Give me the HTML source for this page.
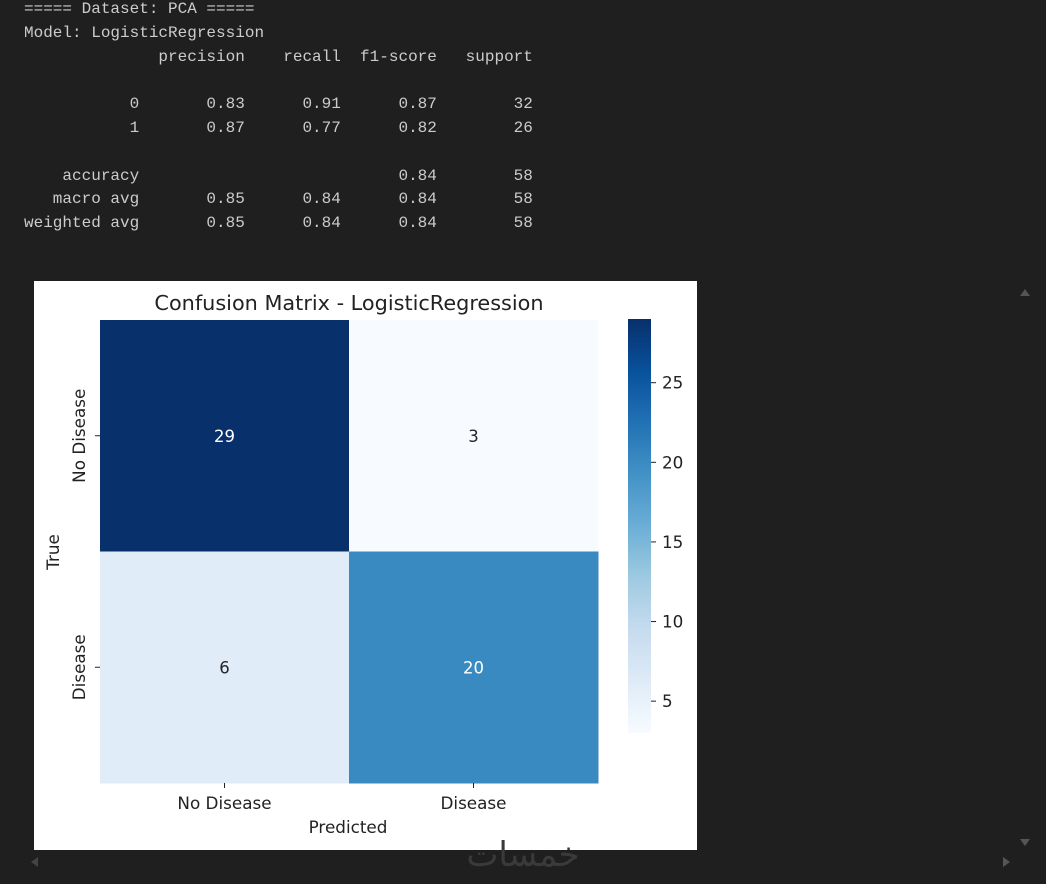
<!DOCTYPE html>
<html><head><meta charset="utf-8"><style>
html,body{margin:0;padding:0;background:#1f1f1f;width:1046px;height:884px;overflow:hidden}
pre{position:absolute;left:24px;top:-2px;margin:0;font-family:"Liberation Mono",monospace;font-size:16px;line-height:23.8px;color:#cccccc}
svg{position:absolute;left:0;top:0}
</style></head><body>
<pre>===== Dataset: PCA =====
Model: LogisticRegression
              precision    recall  f1-score   support

           0       0.83      0.91      0.87        32
           1       0.87      0.77      0.82        26

    accuracy                           0.84        58
   macro avg       0.85      0.84      0.84        58
weighted avg       0.85      0.84      0.84        58</pre>
<svg id="chart" width="1046" height="884" xmlns="http://www.w3.org/2000/svg" font-family="'DejaVu Sans',sans-serif">
<defs><linearGradient id="cbg" x1="0" y1="1" x2="0" y2="0">
<stop offset="0" stop-color="#f7fbff"/><stop offset="0.125" stop-color="#deebf7"/><stop offset="0.25" stop-color="#c6dbef"/><stop offset="0.375" stop-color="#9ecae1"/><stop offset="0.5" stop-color="#6baed6"/><stop offset="0.625" stop-color="#4292c6"/><stop offset="0.75" stop-color="#2171b5"/><stop offset="0.875" stop-color="#08519c"/><stop offset="1" stop-color="#08306b"/></linearGradient></defs>
<rect x="34" y="281" width="663" height="569" fill="#ffffff"/>
<text x="349" y="310" font-size="20.8" text-anchor="middle" fill="#222">Confusion Matrix - LogisticRegression</text>
<g id="cells"></g>
<rect x="628" y="319" width="23" height="414" fill="url(#cbg)"/>
<g id="cbticks"></g>
<text x="348" y="833" font-size="16.8" text-anchor="middle" fill="#222">Predicted</text>
<text transform="translate(59,552) rotate(-90)" font-size="16.8" text-anchor="middle" fill="#222">True</text>
<text x="523" y="866" font-size="34" text-anchor="middle" fill="#3a3a3a" font-family="'DejaVu Sans',sans-serif">خمسات</text>
<polygon points="1020,296 1030,296 1025,289" fill="#555"/>
<polygon points="1020,839 1030,839 1025,846" fill="#555"/>
<polygon points="38,857 38,867 31,862" fill="#444"/>
<polygon points="1003,857 1003,867 1010,862" fill="#555"/>
</svg>
<script>
const rowLabels=["No Disease","Disease"];
const colLabels=["No Disease","Disease"];
const row0=[29,3];
const row1=[6,20];
const cbTicks=[5,10,15,20,25];
const matrix=[row0,row1];
const NS="http://www.w3.org/2000/svg";
const X0=100,X1=598,Y0=320,Y1=783;
const all=matrix.flat(),vmin=Math.min(...all),vmax=Math.max(...all);
const cw=(X1-X0)/colLabels.length,ch=(Y1-Y0)/rowLabels.length;
const stops=["#f7fbff","#deebf7","#c6dbef","#9ecae1","#6baed6","#4292c6","#2171b5","#08519c","#08306b"];
function hex(h){return[1,3,5].map(i=>parseInt(h.substr(i,2),16));}
function blues(t){t=Math.max(0,Math.min(1,t))*(stops.length-1);const i=Math.min(Math.floor(t),stops.length-2),f=t-i;const a=hex(stops[i]),b=hex(stops[i+1]);return"rgb("+a.map((v,k)=>Math.round(v+(b[k]-v)*f)).join(",")+")";}
function el(tag,attrs,parent){const e=document.createElementNS(NS,tag);for(const k in attrs)e.setAttribute(k,attrs[k]);parent.appendChild(e);return e;}
const cells=document.getElementById("cells");
matrix.forEach((row,r)=>row.forEach((v,c)=>{
 const t=(v-vmin)/(vmax-vmin);
 const rect=el("rect",{x:X0+c*cw,y:Y0+r*ch,width:cw+0.5,height:ch+0.5,fill:blues(t)},cells);
 
 
 const tx=el("text",{x:X0+(c+.5)*cw,y:Y0+(r+.5)*ch+6,"font-size":16.5,"text-anchor":"middle",fill:t>0.5?"#ffffff":"#262626"},cells);
 tx.textContent=v;
 
 
}));
colLabels.forEach((l,c)=>{
 const x=X0+(c+.5)*cw;
 el("line",{x1:x,x2:x,y1:Y1,y2:Y1+5,stroke:"#222"},cells);
 const t=el("text",{x:x,y:Y1+26,"font-size":16.8,"text-anchor":"middle",fill:"#222"},cells);
 t.textContent=l;
 
 
});
rowLabels.forEach((l,r)=>{
 const y=Y0+(r+.5)*ch;
 el("line",{x1:X0-5,x2:X0,y1:y,y2:y,stroke:"#222"},cells);
 const t=el("text",{transform:"translate("+(X0-15)+","+y+") rotate(-90)","font-size":16.8,"text-anchor":"middle",fill:"#222"},cells);
 t.textContent=l;
 
 
});
const cb=document.getElementById("cbticks");
const CB0=733,CB1=319;
cbTicks.forEach(v=>{
 const y=CB0-(v-vmin)/(vmax-vmin)*(CB0-CB1);
 el("line",{x1:651,x2:656,y1:y,y2:y,stroke:"#222"},cb);
 const t=el("text",{x:662,y:y+6,"font-size":16.8,fill:"#222"},cb);
 t.textContent=v;
 
 
});
</script>
</body></html>
